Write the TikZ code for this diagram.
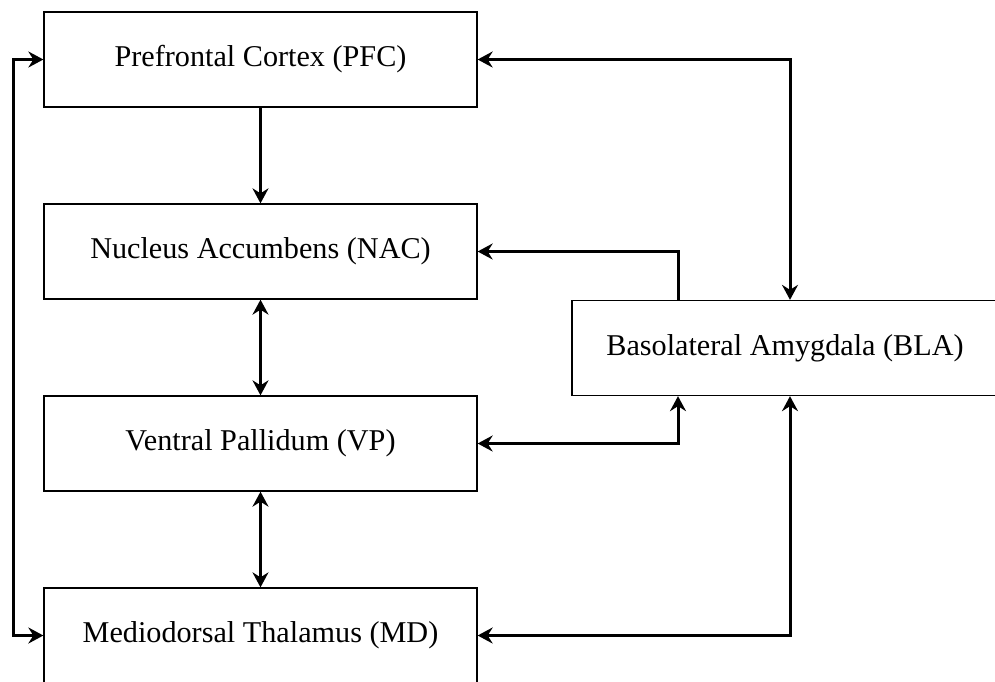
\documentclass[tikz,border=0pt]{standalone}
\usepackage{fontspec}
\setmainfont{Liberation Serif}
\usetikzlibrary{positioning,arrows.meta}

\begin{document}
\begin{tikzpicture}[x=1pt, y=-1pt, node distance={192pt},
	region/.style = {draw, line width=1.3pt, minimum width=433pt, minimum height=95pt, font=\fontsize{30.2}{34}\selectfont},
	link/.style = {line width=3pt, >={Stealth[length=15pt,width=16pt,inset=5pt]}}]
	\useasboundingbox (0,0) rectangle (995,681);
	\node[region] (PFC) at (260.5,59.5) {Prefrontal Cortex (PFC)};
	\node[region] (NAC) [below of=PFC] {Nucleus Accumbens (NAC)};
	\node[region] (VP) [below of=NAC] {Ventral Pallidum (VP)};
	\node[region] (MD) [below of=VP] {Mediodorsal Thalamus (MD)};
	\node[region, minimum width=426pt] (BLA) at (785,348) {Basolateral Amygdala (BLA)};
	\draw[link, ->] (PFC) -- (NAC);
	\draw[link, <->] (NAC) -- (VP);
	\draw[link, <->] (VP) -- (MD);
	\draw[link, <->] (PFC.west) -- ++(-30,0) |- (MD.west);
	\draw[link, <->] (PFC.east) -| ([xshift=5pt]BLA.north);
	\draw[link, ->] ([xshift=-107pt]BLA.north) |- (NAC.east);
	\draw[link, <->] (VP.east) -| ([xshift=-107pt]BLA.south);
	\draw[link, <->] (MD.east) -| ([xshift=5pt]BLA.south);
\end{tikzpicture}
\end{document}
